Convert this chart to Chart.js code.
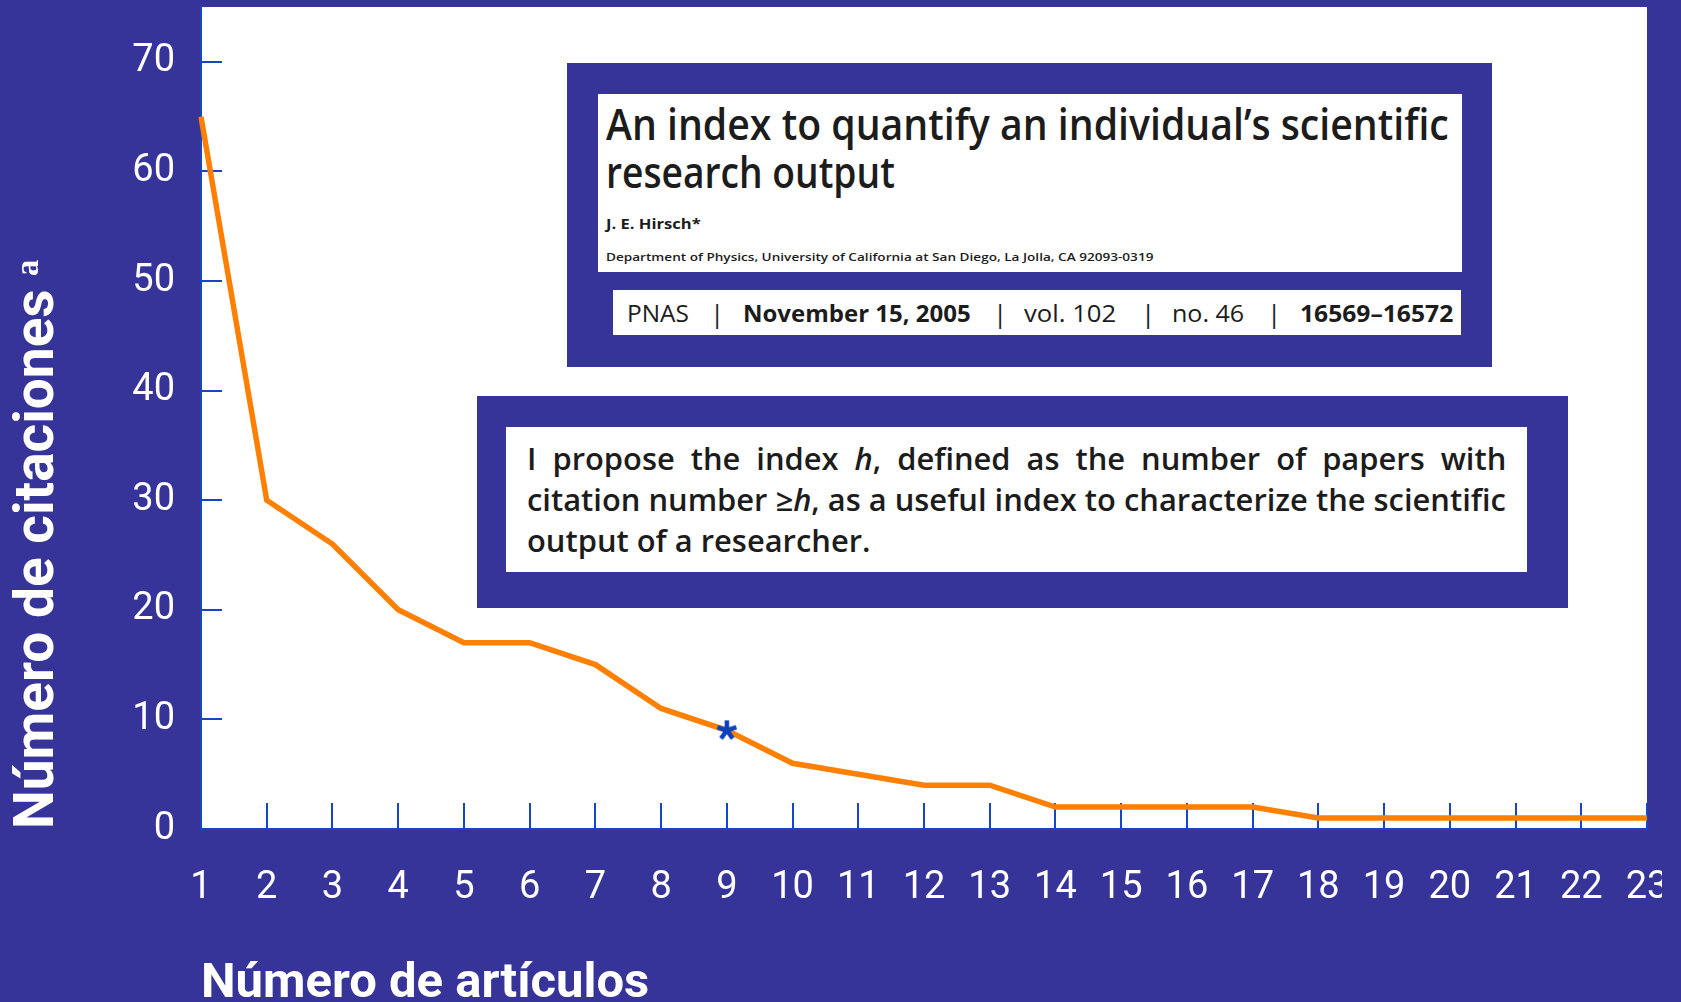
<!DOCTYPE html>
<html>
<head>
<meta charset="utf-8">
<script src="https://cdn.jsdelivr.net/npm/chart.js@4.4.1/dist/chart.umd.min.js"></script>
<style>
  html, body { margin: 0; padding: 0; background: #363499; }
  #wrap { position: relative; width: 1681px; height: 1002px; overflow: hidden; }
  #grafico { position: absolute; left: 0; top: 0; }
  .caja { position: absolute; background: #363499; }
  .blanco { position: absolute; background: #fff; }
  .t { position: absolute; white-space: nowrap; font-family: 'Open Sans', sans-serif; color: #1c1c1c;
       line-height: 1; transform-origin: 0 0; }
  .sep { position: absolute; font-family: 'Open Sans', sans-serif; font-size: 26px; line-height: 1; color: #1c1c1c; }
</style>
</head>
<body>
<div id="wrap">
  <canvas id="grafico" width="1681" height="1002"></canvas>

  <!-- recuadro del artículo -->
  <div class="caja" style="left:567px; top:63px; width:925px; height:304px;"></div>
  <div class="blanco" style="left:598px; top:94px; width:864px; height:178px;"></div>
  <div class="blanco" style="left:613px; top:290px; width:848px; height:45px;"></div>
  <div class="t" data-w="843" style="left:606px; top:101px; font-size:44px; font-weight:600;">An index to quantify an individual’s scientific</div>
  <div class="t" data-w="289" style="left:606px; top:149px; font-size:44px; font-weight:600;">research output</div>
  <div class="t" data-w="95" style="left:606px; top:216px; font-size:15px; font-weight:700;">J. E. Hirsch*</div>
  <div class="t" data-w="547" style="left:606px; top:251px; font-size:11px; font-weight:600;">Department of Physics, University of California at San Diego, La Jolla, CA 92093-0319</div>

  <div class="t" data-w="62" style="left:627px; top:301px; font-size:24px; font-weight:400;">PNAS</div>
  <div class="sep" style="left:710px; top:300px;">|</div>
  <div class="t" data-w="228" style="left:743px; top:301px; font-size:24px; font-weight:700;">November 15, 2005</div>
  <div class="sep" style="left:993px; top:300px;">|</div>
  <div class="t" data-w="92" style="left:1024px; top:301px; font-size:24px; font-weight:400;">vol. 102</div>
  <div class="sep" style="left:1141px; top:300px;">|</div>
  <div class="t" data-w="72" style="left:1172px; top:301px; font-size:24px; font-weight:400;">no. 46</div>
  <div class="sep" style="left:1267px; top:300px;">|</div>
  <div class="t" data-w="153" style="left:1300px; top:301px; font-size:24px; font-weight:700;">16569–16572</div>

  <!-- recuadro de la definición -->
  <div class="caja" style="left:477px; top:396px; width:1091px; height:212px;"></div>
  <div class="blanco" style="left:506px; top:427px; width:1021px; height:145px;"></div>
  <div class="t par" id="linea1" style="left:527px; top:444px; font-size:30px; font-weight:600;">I propose the index <i>h</i>, defined as the number of papers with</div>
  <div class="t par" id="linea2" style="left:527px; top:485px; font-size:30px; font-weight:600;">citation number ≥<i>h</i>, as a useful index to characterize the scientific</div>
  <div class="t par" id="linea3" style="left:527px; top:526px; font-size:30px; font-weight:600;">output of a researcher.</div>

  <!-- el "23" del eje queda cortado en el original -->
  <div class="caja" style="left:1662px; top:845px; width:19px; height:80px;"></div>
</div>

<script>
const articulos = ['1', '2', '3', '4', '5', '6', '7', '8', '9', '10', '11', '12',
                   '13', '14', '15', '16', '17', '18', '19', '20', '21', '22', '23'];
const citaciones = [65, 30, 26, 20, 17, 17, 15, 11, 9, 6, 5, 4, 4, 2, 2, 2, 2, 1, 1, 1, 1, 1, 1];
const indiceH = 9;
const marcasY = [0, 10, 20, 30, 40, 50, 60, 70];
const maxY = 75;

const azul = '#1646c6';
const naranja = '#ff8000';

// asterisco de 5 brazos para marcar el índice h
function asterisco(size, color) {
    const c = document.createElement('canvas');
    c.width = c.height = size;
    const g = c.getContext('2d');
    const r = size / 2;
    g.strokeStyle = color;
    g.lineWidth = 4.5;
    g.beginPath();
    for (let i = 0; i < 5; i++) {
        const a = -Math.PI / 2 + i * 2 * Math.PI / 5;
        g.moveTo(r, r);
        g.lineTo(r + Math.cos(a) * (r - 1), r + Math.sin(a) * (r - 1));
    }
    g.stroke();
    return c;
}

const fondoBlanco = {
    id: 'fondoBlanco',
    beforeDraw(chart) {
        const { ctx, chartArea: a } = chart;
        ctx.save();
        ctx.fillStyle = '#ffffff';
        ctx.fillRect(a.left, a.top, a.right - a.left, a.bottom - a.top);
        ctx.restore();
    }
};

const puntoH = citaciones.map((v, i) => (i + 1 === indiceH ? v : null));

new Chart(document.getElementById('grafico'), {
    type: 'line',
    data: {
        labels: articulos,
        datasets: [
            {
                data: citaciones,
                borderColor: naranja,
                borderWidth: 5.5,
                pointRadius: 0,
                tension: 0,
                order: 1
            },
            {
                data: puntoH,
                showLine: false,
                pointStyle: asterisco(22, '#0b3fbf'),
                pointRadius: 11,
                order: 0
            }
        ]
    },
    options: {
        responsive: false,
        animation: false,
        layout: { autoPadding: false, padding: { top: 7, right: 34, left: 0, bottom: 0 } },
        plugins: { legend: { display: false }, tooltip: { enabled: false } },
        scales: {
            x: {
                grid: { drawOnChartArea: false, tickLength: -26, color: azul, lineWidth: 2 },
                border: { color: azul, width: 2 },
                ticks: {
                    color: '#ffffff',
                    font: { family: 'Roboto', size: 38 },
                    padding: 63,
                    maxRotation: 0,
                    autoSkip: false
                },
                title: {
                    display: true,
                    text: 'Número de artículos',
                    align: 'start',
                    color: '#ffffff',
                    font: { family: 'Roboto', weight: 'bold', size: 49, lineHeight: 0.7 },
                    padding: 0
                },
                afterFit(s) {
                    s.height = 173;
                    s.paddingLeft = 0;
                    s.paddingRight = 0;
                }
            },
            y: {
                min: 0,
                max: maxY,
                afterBuildTicks(s) {
                    s.ticks = marcasY.map(v => ({ value: v }));
                },
                grid: { drawOnChartArea: false, tickLength: -21, color: azul, lineWidth: 2 },
                border: { color: azul, width: 2 },
                ticks: {
                    color: '#ffffff',
                    font: { family: 'Roboto', size: 38 },
                    padding: 47
                },
                title: {
                    display: true,
                    text: 'Número de citaciones ᵃ',
                    align: 'start',
                    color: '#ffffff',
                    font: { family: 'Roboto', weight: 'bold', size: 55, lineHeight: 1 },
                    padding: { top: 12, bottom: 0 }
                },
                afterFit(s) {
                    s.width = 201;
                    s.paddingTop = 0;
                    s.paddingBottom = 0;
                }
            }
        }
    },
    plugins: [fondoBlanco]
});

// ajustar el ancho de los textos del recuadro (letra condensada en el original)
document.querySelectorAll('.t[data-w]').forEach(el => {
    const k = Number(el.dataset.w) / el.offsetWidth;
    el.style.transform = `scaleX(${k})`;
});

const anchoPar = 979;
const l1 = document.getElementById('linea1');
const l2 = document.getElementById('linea2');
const l3 = document.getElementById('linea3');
const kPar = anchoPar / l2.offsetWidth;
[l2, l3].forEach(el => { el.style.transform = `scaleX(${kPar})`; });
const huecos = (l1.textContent.match(/ /g) || []).length;
l1.style.wordSpacing = ((anchoPar / kPar - l1.offsetWidth) / huecos) + 'px';
l1.style.transform = `scaleX(${kPar})`;
</script>
</body>
</html>
